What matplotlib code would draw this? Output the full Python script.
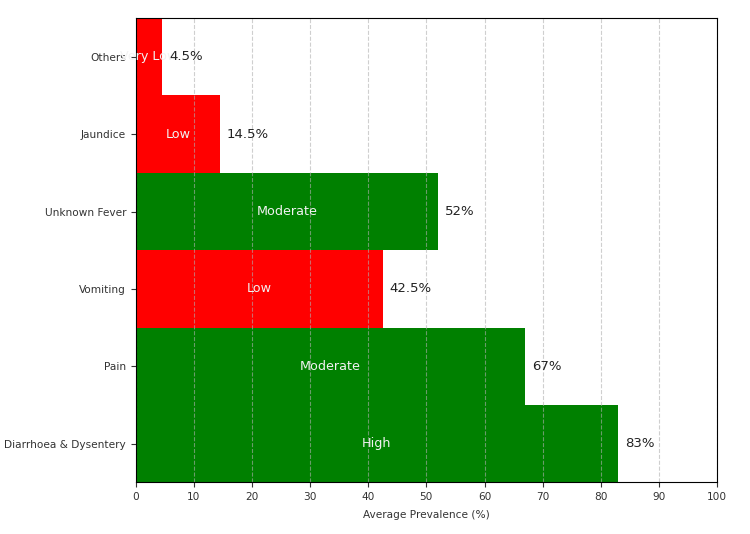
import matplotlib
matplotlib.use("Agg")
import matplotlib.pyplot as plt

# bottom to top, as drawn
symptoms = ["Diarrhoea & Dysentery", "Pain", "Vomiting", "Unknown Fever", "Jaundice", "Others"]
prevalence = [83, 67, 42.5, 52, 14.5, 4.5]
levels = ["High", "Moderate", "Low", "Moderate", "Low", "Very Low"]
level_colors = {"High": "green", "Moderate": "green", "Low": "red", "Very Low": "red"}

fig = plt.figure(figsize=(7.5, 5.34), dpi=100)
ax = fig.add_axes([0.181, 0.097, 0.775, 0.869])

colors = [level_colors[l] for l in levels]
ax.barh(symptoms, prevalence, height=1.0, color=colors)

for i, (v, lvl) in enumerate(zip(prevalence, levels)):
    ax.text(v / 2, i, lvl, ha="center", va="center", color="#f2f2f2", fontsize=9.2)
    ax.text(v + 1.2, i, f"{v:g}%", ha="left", va="center", color="#222222", fontsize=9.5)

ax.set_xlim(0, 100)
ax.set_ylim(-0.5, 5.5)
ax.set_xticks(range(0, 101, 10))
ax.tick_params(labelsize=7.6, colors="#333333")
ax.set_xlabel("Average Prevalence (%)", fontsize=7.6, color="#333333", labelpad=6)
ax.grid(axis="x", ls="--", alpha=0.6)

fig.savefig("out.png", dpi=100)
